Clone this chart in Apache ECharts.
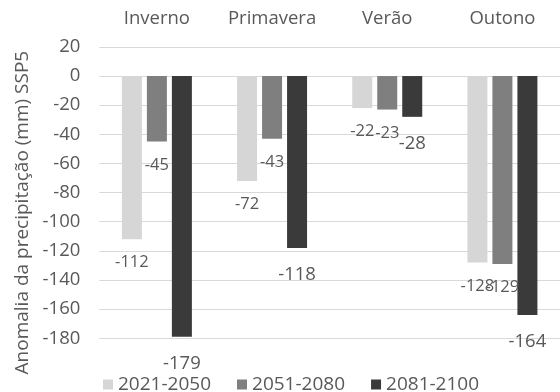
<!DOCTYPE html>
<html>
<head>
<meta charset="utf-8">
<script src="https://cdn.jsdelivr.net/npm/echarts@6/dist/echarts.min.js"></script>
<style>
html,body{margin:0;padding:0;background:#fff;}
#c{width:560px;height:392px;}
</style>
</head>
<body>
<div id="c"></div>
<script>
const categories = ['Inverno', 'Primavera', 'Verão', 'Outono'];
const seriesNames = ['2021-2050', '2051-2080', '2081-2100'];
const values2021 = [-112, -72, -22, -128];
const values2051 = [-45, -43, -23, -129];
const values2081 = [-179, -118, -28, -164];
const yTicks = [20, 0, -20, -40, -60, -80, -100, -120, -140, -160, -180];
const yTitle = 'Anomalia da precipitação (mm) SSP5';

const FONT = '"Open Sans", sans-serif';
const TXT = '#595959';
const colors = ['#D6D6D6', '#7F7F7F', '#3A3A3A'];
const allValues = [values2021, values2051, values2081];

const chart = echarts.init(document.getElementById('c'), null, {renderer: 'canvas'});
chart.setOption({
  animation: false,
  textStyle: {fontFamily: FONT},
  grid: {left: 99.3, right: -3.3, top: 46.9, bottom: 53.7, containLabel: false},
  legend: {
    data: seriesNames,
    left: 98, top: 370,
    itemWidth: 10, itemHeight: 10, itemGap: 26,
    icon: 'rect',
    textStyle: {fontFamily: FONT, fontSize: 19, color: TXT}
  },
  xAxis: {
    type: 'category',
    position: 'top',
    data: categories,
    axisLine: {show: false},
    axisTick: {show: false},
    axisLabel: {fontFamily: FONT, fontSize: 18.5, color: TXT, margin: 19}
  },
  yAxis: {
    type: 'value',
    min: yTicks[yTicks.length - 1],
    max: yTicks[0],
    interval: 20,
    name: yTitle,
    nameLocation: 'middle',
    nameGap: 66,
    nameTextStyle: {fontFamily: FONT, fontSize: 19, color: TXT, padding: [0, 40, 0, 0]},
    axisLine: {show: false},
    axisTick: {show: false},
    axisLabel: {fontFamily: FONT, fontSize: 18.5, color: TXT, margin: 19},
    splitLine: {lineStyle: {color: '#D9D9D9', width: 1}}
  },
  series: seriesNames.map((name, i) => ({
    name: name,
    type: 'bar',
    data: allValues[i],
    barWidth: 20,
    barGap: '25%',
    itemStyle: {color: colors[i]},
    label: {
      show: true,
      position: 'bottom',
      distance: i === 2 ? 17 : 15,
      fontFamily: FONT,
      fontSize: i === 2 ? 18.5 : 16.5,
      color: TXT
    }
  }))
});
</script>
</body>
</html>
